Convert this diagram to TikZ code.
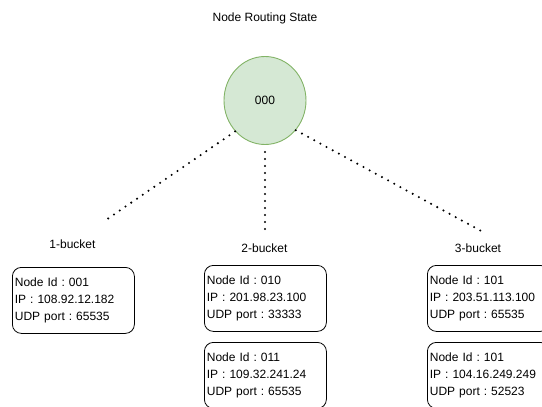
\documentclass[tikz,border=0pt]{standalone}
\usepackage{fontspec}
\setmainfont{Liberation Sans}
\usetikzlibrary{shapes.geometric}
\definecolor{leaffill}{HTML}{D5E8D4}
\definecolor{leafline}{HTML}{82B366}
\frenchspacing
\begin{document}
\begin{tikzpicture}[
  x=1pt,
  y=-1pt,
  font=\fontsize{12}{17}\selectfont,
  rootnode/.style={ellipse, draw=leafline, fill=leaffill, line width=0.9pt,
    minimum width=82, minimum height=88, inner sep=0pt},
  bucketlabel/.style={inner sep=0pt},
  peerbox/.style={draw=black, line width=0.8pt, rounded corners=9pt,
    minimum width=122, minimum height=66, text width=117, align=left,
    inner xsep=2.5pt, inner ysep=0pt, anchor=north west},
  link/.style={line width=2.3pt, line cap=round, dash pattern=on 0pt off 7pt}
]
\clip (0,0) rectangle (542,407);

% title and routing node
\node[bucketlabel] (title) at (265,18) {Node Routing State};
\node[rootnode] (root) at (265,100.5) {000};

% k-buckets
\node[bucketlabel] (b1) at (72.5,244) {1-bucket};
\node[bucketlabel] (b2) at (264.5,248) {2-bucket};
\node[bucketlabel] (b3) at (478,248) {3-bucket};

\coordinate (e1) at (103,222);
\coordinate (e2) at (265,233);
\coordinate (e3) at (483,232);

\draw[link] (root.226) -- (e1);
\draw[link] ([yshift=-7]root.south) -- (e2);
\draw[link] (root.-44.6) -- (e3);

% entries of each bucket
\node[peerbox] (p1) at (12,267) {Node Id : 001\\IP : 108.92.12.182\\UDP port : 65535};
\node[peerbox] (p2) at (204,265) {Node Id : 010\\IP : 201.98.23.100\\UDP port : 33333};
\node[peerbox] (p3) at (204,342) {Node Id : 011\\IP : 109.32.241.24\\UDP port : 65535};
\node[peerbox] (p4) at (427,265) {Node Id : 101\\IP : 203.51.113.100\\UDP port : 65535};
\node[peerbox] (p5) at (427,342) {Node Id : 101\\IP : 104.16.249.249\\UDP port : 52523};
\end{tikzpicture}
\end{document}
